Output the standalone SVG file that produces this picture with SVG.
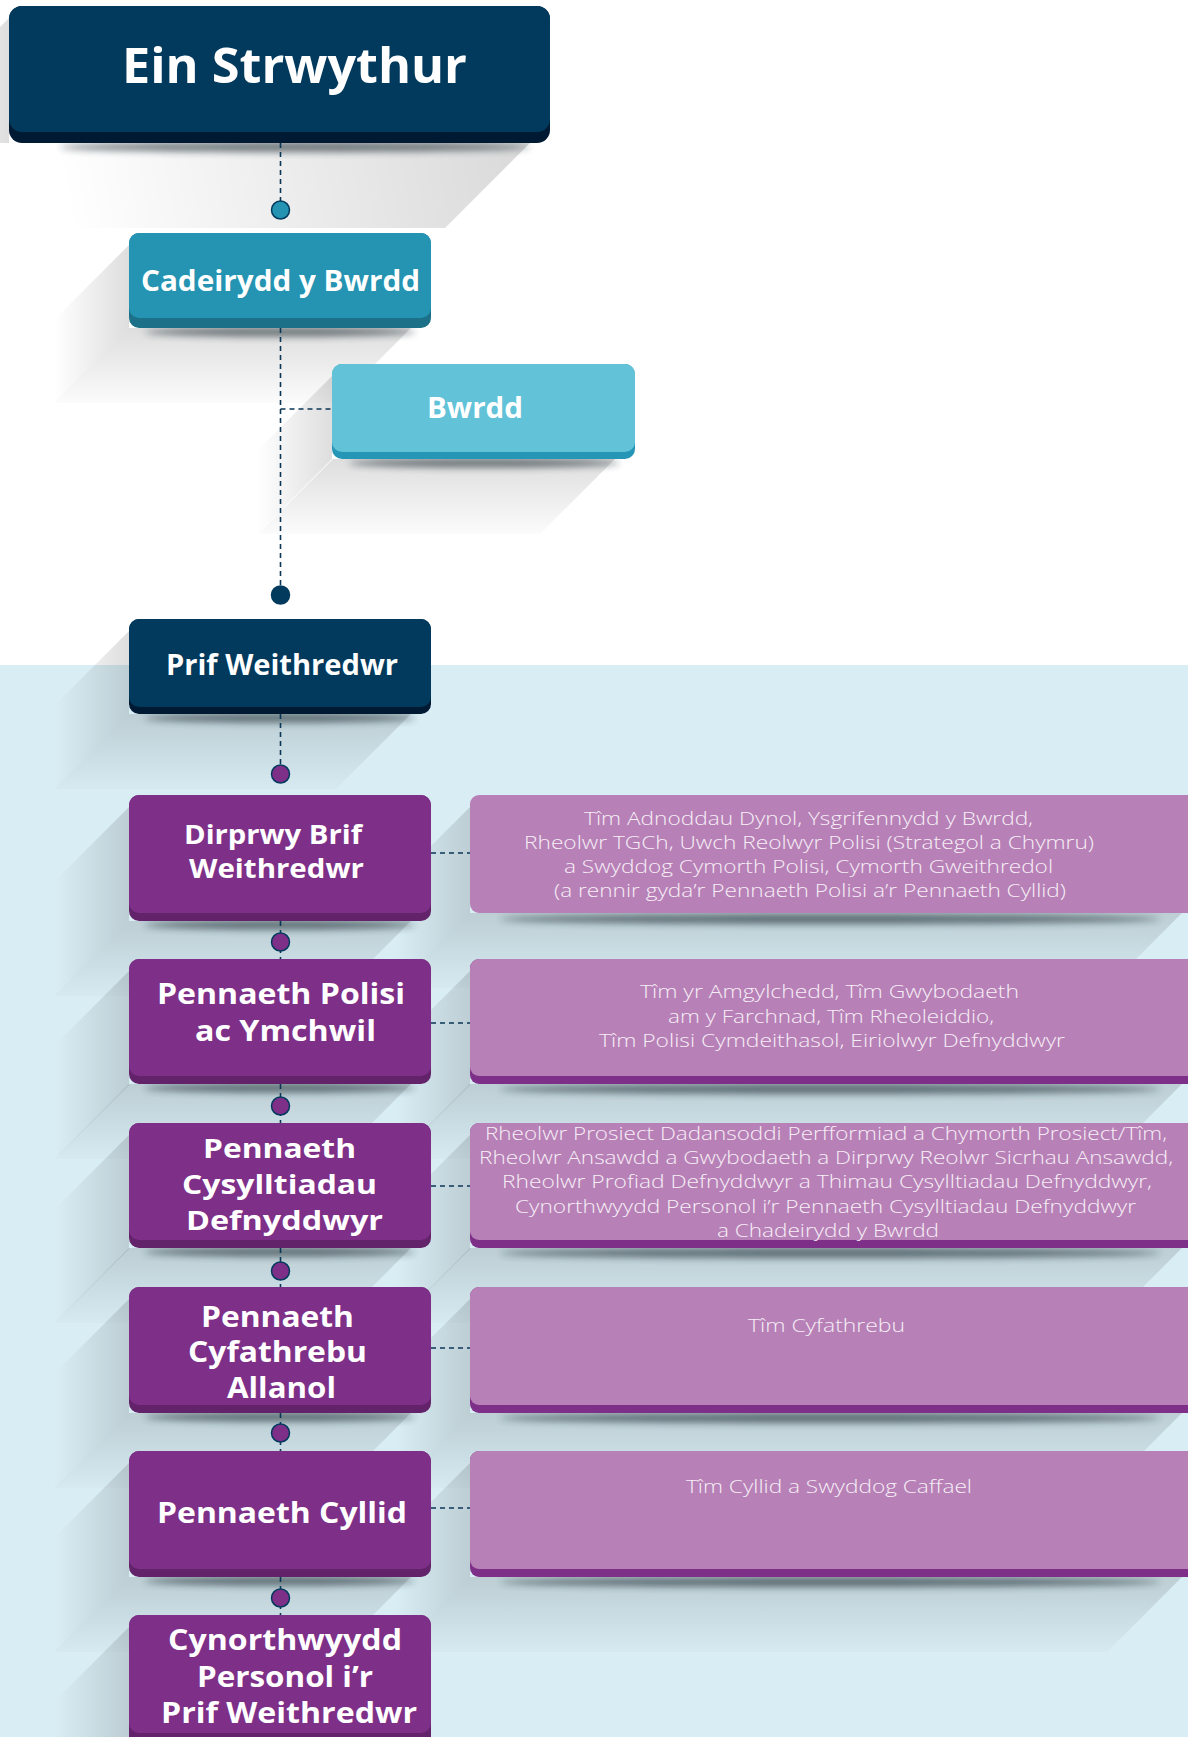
<svg xmlns="http://www.w3.org/2000/svg" xmlns:xlink="http://www.w3.org/1999/xlink" width="1188" height="1737" viewBox="0 0 1188 1737">
<style>
.hd{font-family:"Open Sans","Liberation Sans",sans-serif;font-weight:700;fill:#ffffff;text-anchor:middle}
.lt{font-family:"Open Sans","Liberation Sans",sans-serif;font-weight:300;fill:#f6eef6;text-anchor:middle;font-size:19px}
.dash{stroke:#0b3656;stroke-width:1.6;stroke-dasharray:5 4;fill:none}
.cs{fill:#1a2a33;opacity:0.6;filter:url(#blur)}
.navy{fill:#023a5d}.navyS{fill:#001a33}
.teal{fill:#2593b2}.tealS{fill:#1c7189}
.sky{fill:#61c2d8}.skyS{fill:#2596b5}
.pur{fill:#7e2f88}.purS{fill:#62236a}
.lil{fill:#b781b7}.lilS{fill:#7e2f88}
</style>
<defs>
<linearGradient id="shL" gradientUnits="userSpaceOnUse" x1="0" y1="0" x2="-75" y2="0">
<stop offset="0" stop-color="#000" stop-opacity="0.13"/>
<stop offset="1" stop-color="#000" stop-opacity="0"/>
</linearGradient>
<linearGradient id="shB" gradientUnits="userSpaceOnUse" x1="0" y1="0" x2="0" y2="75">
<stop offset="0" stop-color="#000" stop-opacity="0.13"/>
<stop offset="1" stop-color="#000" stop-opacity="0.015"/>
</linearGradient>
<linearGradient id="shT" gradientUnits="userSpaceOnUse" x1="521" y1="0" x2="60" y2="85">
<stop offset="0" stop-color="#000" stop-opacity="0.15"/>
<stop offset="1" stop-color="#000" stop-opacity="0"/>
</linearGradient>
<filter id="blur" x="-20%" y="-300%" width="140%" height="700%"><feGaussianBlur stdDeviation="3.5"/></filter>
<polygon id="sl95" fill="url(#shL)" points="0,12 -75,87 -75,170 0,95"/>
<polygon id="sl118" fill="url(#shL)" points="0,12 -75,87 -75,193 0,118"/>
<polygon id="sl126" fill="url(#shL)" points="0,12 -75,87 -75,201 0,126"/>
<polygon id="sb302" fill="url(#shB)" points="0,0 -75,75 207,75 282,0"/>
<polygon id="sb730" fill="url(#shB)" points="0,0 -75,75 637,75 712,0"/>
</defs>
<rect x="0" y="0" width="1188" height="1737" fill="#ffffff"/>
<rect x="0" y="665" width="1188" height="1072" fill="#d9edf4"/>

<g id="shadows">
<polygon fill="url(#shL)" transform="translate(9,6)" points="0,12 -85,97 -85,137 0,137"/>
<polygon fill="url(#shT)" transform="translate(9,143)" points="0,0 -85,85 436,85 521,0"/>
<use href="#sl95" x="129" y="233"/><use href="#sb302" x="129" y="328"/>
<use href="#sl95" x="332" y="364"/><use href="#sb302" x="333" y="459"/>
<use href="#sl95" x="129" y="619"/><use href="#sb302" x="129" y="714"/>
<use href="#sl126" x="129" y="795"/><use href="#sb302" x="129" y="921"/>
<use href="#sl126" x="129" y="959"/><use href="#sb302" x="129" y="1084"/>
<use href="#sl126" x="129" y="1123"/><use href="#sb302" x="129" y="1248"/>
<use href="#sl126" x="129" y="1287"/><use href="#sb302" x="129" y="1413"/>
<use href="#sl126" x="129" y="1451"/><use href="#sb302" x="129" y="1577"/>
<use href="#sl126" x="129" y="1615"/>
<use href="#sl118" x="470" y="795"/><use href="#sb730" x="470" y="913"/>
<use href="#sl126" x="470" y="959"/><use href="#sb730" x="470" y="1084"/>
<use href="#sl126" x="470" y="1123"/><use href="#sb730" x="470" y="1248"/>
<use href="#sl126" x="470" y="1287"/><use href="#sb730" x="470" y="1413"/>
<use href="#sl126" x="470" y="1451"/><use href="#sb730" x="470" y="1577"/>
<ellipse class="cs" cx="295" cy="147" rx="235" ry="5"/>
<ellipse class="cs" cx="280" cy="332" rx="135" ry="4.5"/>
<ellipse class="cs" cx="484" cy="463" rx="135" ry="4.5"/>
<ellipse class="cs" cx="280" cy="718" rx="135" ry="4.5"/>
<ellipse class="cs" cx="280" cy="925" rx="135" ry="4.5"/>
<ellipse class="cs" cx="280" cy="1088" rx="135" ry="4.5"/>
<ellipse class="cs" cx="280" cy="1252" rx="135" ry="4.5"/>
<ellipse class="cs" cx="280" cy="1417" rx="135" ry="4.5"/>
<ellipse class="cs" cx="280" cy="1581" rx="135" ry="4.5"/>
<ellipse class="cs" cx="830" cy="919" rx="330" ry="5"/>
<ellipse class="cs" cx="830" cy="1089" rx="330" ry="5"/>
<ellipse class="cs" cx="830" cy="1253" rx="330" ry="5"/>
<ellipse class="cs" cx="830" cy="1418" rx="330" ry="5"/>
<ellipse class="cs" cx="830" cy="1582" rx="330" ry="5"/>
</g>

<g id="connectors">
<line class="dash" x1="280.5" y1="143" x2="280.5" y2="201"/>
<line class="dash" x1="280.5" y1="328" x2="280.5" y2="586"/>
<line class="dash" x1="280.5" y1="409" x2="332" y2="409"/>
<line class="dash" x1="280.5" y1="714" x2="280.5" y2="765"/>
<line class="dash" x1="280.5" y1="921" x2="280.5" y2="959"/>
<line class="dash" x1="280.5" y1="1084" x2="280.5" y2="1123"/>
<line class="dash" x1="280.5" y1="1248" x2="280.5" y2="1287"/>
<line class="dash" x1="280.5" y1="1413" x2="280.5" y2="1451"/>
<line class="dash" x1="280.5" y1="1577" x2="280.5" y2="1615"/>
<line class="dash" x1="431" y1="853" x2="470" y2="853"/>
<line class="dash" x1="431" y1="1023" x2="470" y2="1023"/>
<line class="dash" x1="431" y1="1186" x2="470" y2="1186"/>
<line class="dash" x1="431" y1="1348" x2="470" y2="1348"/>
<line class="dash" x1="431" y1="1508" x2="470" y2="1508"/>
<circle cx="280.5" cy="210" r="9" fill="#2593b2" stroke="#023a5d" stroke-width="1.5"/>
<circle cx="280.5" cy="595" r="9" fill="#023a5d" stroke="#023a5d" stroke-width="1.5"/>
<circle cx="280.5" cy="774" r="9" fill="#7e2f88" stroke="#023a5d" stroke-width="1.5"/>
<circle cx="280.5" cy="942" r="9" fill="#7e2f88" stroke="#023a5d" stroke-width="1.5"/>
<circle cx="280.5" cy="1106" r="9" fill="#7e2f88" stroke="#023a5d" stroke-width="1.5"/>
<circle cx="280.5" cy="1271" r="9" fill="#7e2f88" stroke="#023a5d" stroke-width="1.5"/>
<circle cx="280.5" cy="1433" r="9" fill="#7e2f88" stroke="#023a5d" stroke-width="1.5"/>
<circle cx="280.5" cy="1598" r="9" fill="#7e2f88" stroke="#023a5d" stroke-width="1.5"/>
</g>

<g id="title">
<rect class="navyS" x="9" y="6" width="541" height="137" rx="13"/>
<rect class="navy" x="9" y="6" width="541" height="126" rx="13"/>
<text class="hd" x="294.5" y="83" font-size="48" textLength="345" lengthAdjust="spacingAndGlyphs">Ein Strwythur</text>
</g>

<g id="cadeirydd">
<rect class="tealS" x="129" y="233" width="302" height="95" rx="10"/>
<rect class="teal" x="129" y="233" width="302" height="85" rx="10"/>
<text class="hd" x="280.5" y="291" font-size="28" textLength="279" lengthAdjust="spacingAndGlyphs">Cadeirydd y Bwrdd</text>
</g>

<g id="bwrdd">
<rect class="skyS" x="332" y="364" width="303" height="95" rx="10"/>
<rect class="sky" x="332" y="364" width="303" height="88" rx="10"/>
<text class="hd" x="475" y="418" font-size="28" textLength="96" lengthAdjust="spacingAndGlyphs">Bwrdd</text>
</g>

<g id="prif">
<rect class="navyS" x="129" y="619" width="302" height="95" rx="10"/>
<rect class="navy" x="129" y="619" width="302" height="88" rx="10"/>
<text class="hd" x="282" y="675" font-size="28" textLength="232" lengthAdjust="spacingAndGlyphs">Prif Weithredwr</text>
</g>

<g id="dirprwy">
<rect class="purS" x="129" y="795" width="302" height="126" rx="10"/>
<rect class="pur" x="129" y="795" width="302" height="118" rx="10"/>
<text class="hd" font-size="27"><tspan x="273" y="844" textLength="178" lengthAdjust="spacingAndGlyphs">Dirprwy Brif</tspan><tspan x="276.5" y="878" textLength="175" lengthAdjust="spacingAndGlyphs">Weithredwr</tspan></text>
</g>
<g id="dirprwy-team">
<rect class="lil" x="470" y="795" width="740" height="118" rx="9"/>
<text class="lt"><tspan x="808.5" y="825" textLength="449" lengthAdjust="spacingAndGlyphs">Tîm Adnoddau Dynol, Ysgrifennydd y Bwrdd,</tspan><tspan x="809" y="849" textLength="570" lengthAdjust="spacingAndGlyphs">Rheolwr TGCh, Uwch Reolwyr Polisi (Strategol a Chymru)</tspan><tspan x="808.5" y="873" textLength="489" lengthAdjust="spacingAndGlyphs">a Swyddog Cymorth Polisi, Cymorth Gweithredol</tspan><tspan x="810" y="897" textLength="512" lengthAdjust="spacingAndGlyphs">(a rennir gyda’r Pennaeth Polisi a’r Pennaeth Cyllid)</tspan></text>
</g>

<g id="polisi">
<rect class="purS" x="129" y="959" width="302" height="125" rx="10"/>
<rect class="pur" x="129" y="959" width="302" height="117" rx="10"/>
<text class="hd" font-size="29"><tspan x="281" y="1004" textLength="248" lengthAdjust="spacingAndGlyphs">Pennaeth Polisi</tspan><tspan x="285.5" y="1041" textLength="181" lengthAdjust="spacingAndGlyphs">ac Ymchwil</tspan></text>
</g>
<g id="polisi-team">
<rect class="lilS" x="470" y="959" width="740" height="125" rx="9"/>
<rect class="lil" x="470" y="959" width="740" height="117" rx="9"/>
<text class="lt"><tspan x="829.5" y="998" textLength="379" lengthAdjust="spacingAndGlyphs">Tîm yr Amgylchedd, Tîm Gwybodaeth</tspan><tspan x="831" y="1023" textLength="326" lengthAdjust="spacingAndGlyphs">am y Farchnad, Tîm Rheoleiddio,</tspan><tspan x="832" y="1047" textLength="466" lengthAdjust="spacingAndGlyphs">Tîm Polisi Cymdeithasol, Eiriolwyr Defnyddwyr</tspan></text>
</g>

<g id="cysylltiadau">
<rect class="purS" x="129" y="1123" width="302" height="125" rx="10"/>
<rect class="pur" x="129" y="1123" width="302" height="117" rx="10"/>
<text class="hd" font-size="27"><tspan x="279.5" y="1158" textLength="153" lengthAdjust="spacingAndGlyphs">Pennaeth</tspan><tspan x="279.5" y="1194" textLength="195" lengthAdjust="spacingAndGlyphs">Cysylltiadau</tspan><tspan x="284.5" y="1230" textLength="197" lengthAdjust="spacingAndGlyphs">Defnyddwyr</tspan></text>
</g>
<g id="cysylltiadau-team">
<rect class="lilS" x="470" y="1123" width="740" height="125" rx="9"/>
<rect class="lil" x="470" y="1123" width="740" height="117" rx="9"/>
<text class="lt"><tspan x="826" y="1140" textLength="682" lengthAdjust="spacingAndGlyphs">Rheolwr Prosiect Dadansoddi Perfformiad a Chymorth Prosiect/Tîm,</tspan><tspan x="826" y="1164" textLength="694" lengthAdjust="spacingAndGlyphs">Rheolwr Ansawdd a Gwybodaeth a Dirprwy Reolwr Sicrhau Ansawdd,</tspan><tspan x="827" y="1188" textLength="650" lengthAdjust="spacingAndGlyphs">Rheolwr Profiad Defnyddwyr a Thimau Cysylltiadau Defnyddwyr,</tspan><tspan x="825.5" y="1213" textLength="621" lengthAdjust="spacingAndGlyphs">Cynorthwyydd Personol i’r Pennaeth Cysylltiadau Defnyddwyr</tspan><tspan x="828" y="1237" textLength="222" lengthAdjust="spacingAndGlyphs">a Chadeirydd y Bwrdd</tspan></text>
</g>

<g id="cyfathrebu">
<rect class="purS" x="129" y="1287" width="302" height="126" rx="10"/>
<rect class="pur" x="129" y="1287" width="302" height="118" rx="10"/>
<text class="hd" font-size="28"><tspan x="277.5" y="1327" textLength="153" lengthAdjust="spacingAndGlyphs">Pennaeth</tspan><tspan x="277.5" y="1362" textLength="179" lengthAdjust="spacingAndGlyphs">Cyfathrebu</tspan><tspan x="281.5" y="1398" textLength="109" lengthAdjust="spacingAndGlyphs">Allanol</tspan></text>
</g>
<g id="cyfathrebu-team">
<rect class="lilS" x="470" y="1287" width="740" height="126" rx="9"/>
<rect class="lil" x="470" y="1287" width="740" height="118" rx="9"/>
<text class="lt" x="826.5" y="1332" textLength="157" lengthAdjust="spacingAndGlyphs">Tîm Cyfathrebu</text>
</g>

<g id="cyllid">
<rect class="purS" x="129" y="1451" width="302" height="126" rx="10"/>
<rect class="pur" x="129" y="1451" width="302" height="118" rx="10"/>
<text class="hd" font-size="29" x="282" y="1523" textLength="250" lengthAdjust="spacingAndGlyphs">Pennaeth Cyllid</text>
</g>
<g id="cyllid-team">
<rect class="lilS" x="470" y="1451" width="740" height="126" rx="9"/>
<rect class="lil" x="470" y="1451" width="740" height="118" rx="9"/>
<text class="lt" x="829" y="1493" textLength="286" lengthAdjust="spacingAndGlyphs">Tîm Cyllid a Swyddog Caffael</text>
</g>

<g id="cynorthwyydd">
<rect class="purS" x="129" y="1615" width="302" height="140" rx="10"/>
<rect class="pur" x="129" y="1615" width="302" height="118" rx="10"/>
<text class="hd" font-size="28"><tspan x="285" y="1650" textLength="234" lengthAdjust="spacingAndGlyphs">Cynorthwyydd</tspan><tspan x="285" y="1687" textLength="176" lengthAdjust="spacingAndGlyphs">Personol i’r</tspan><tspan x="289" y="1723" textLength="256" lengthAdjust="spacingAndGlyphs">Prif Weithredwr</tspan></text>
</g>
</svg>
